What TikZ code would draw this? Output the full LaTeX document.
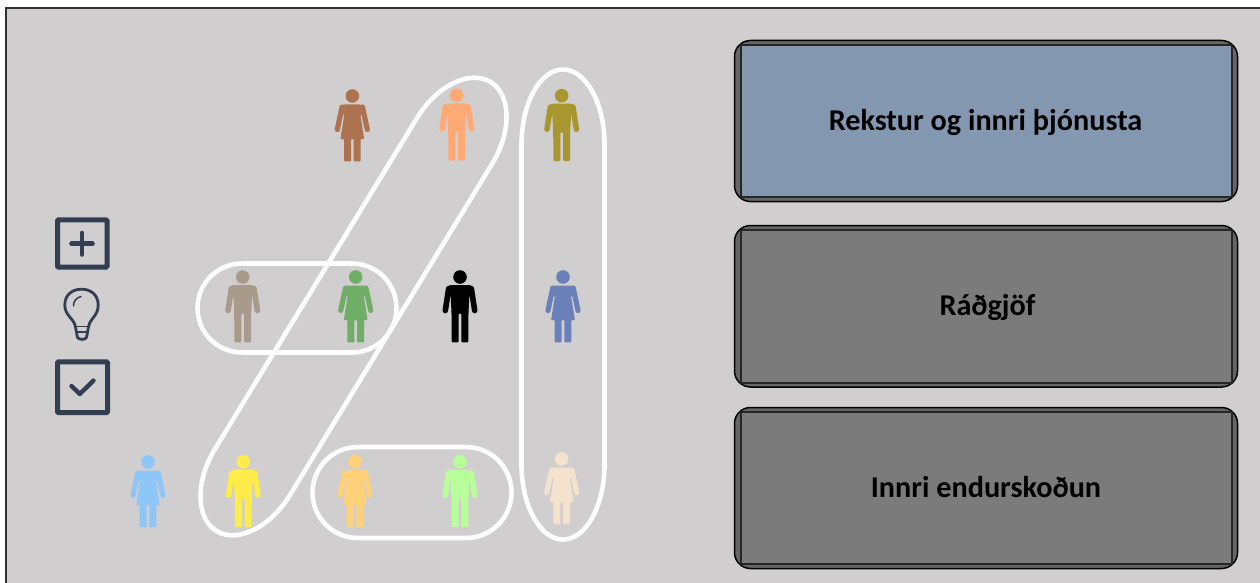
\documentclass[tikz,border=0pt]{standalone}
\usepackage{fontspec}
\setmainfont{Carlito}
\definecolor{pagebg}{HTML}{D0CECE}
\definecolor{iconc}{HTML}{333F50}
\definecolor{bluebox}{HTML}{8497B0}
\definecolor{greybox}{HTML}{7B7B7B}
\definecolor{bandc}{HTML}{666666}
\definecolor{pbrown}{HTML}{AD7351}
\definecolor{porange}{HTML}{FFAA75}
\definecolor{polive}{HTML}{A8972F}
\definecolor{ptaupe}{HTML}{A99B8B}
\definecolor{pgreen}{HTML}{70AD67}
\definecolor{pblue}{HTML}{6A80B8}
\definecolor{psky}{HTML}{8FC6F8}
\definecolor{pyellow}{HTML}{FFEB4A}
\definecolor{pgold}{HTML}{FFD27A}
\definecolor{plime}{HTML}{B8FF9C}
\definecolor{pbeige}{HTML}{F5E2CC}
\newcommand{\pillpath}[3]{%
  ({-#1},{-#3}) -- ({#1},{-#3})
  .. controls ({#1+.5523*#2},{-#3}) and ({#1+#2},{-.5523*#3}) .. ({#1+#2},0)
  .. controls ({#1+#2},{.5523*#3}) and ({#1+.5523*#2},{#3}) .. ({#1},{#3})
  -- ({-#1},{#3})
  .. controls ({-#1-.5523*#2},{#3}) and ({-#1-#2},{.5523*#3}) .. ({-#1-#2},0)
  .. controls ({-#1-#2},{-.5523*#3}) and ({-#1-.5523*#2},{-#3}) .. ({-#1},{-#3}) -- cycle}
\tikzset{
  ring/.style={draw=white,line width=4.6pt,fill=none,line join=round},
  iconbox/.style={draw=iconc,line width=5pt,fill=none,rounded corners=1pt},
  iconline/.style={draw=iconc,line cap=round,line join=round},
  boxouter/.style={draw=black,line width=1.5pt,fill=bandc,rounded corners=16pt},
  boxinner/.style={draw=black!85,line width=1.2pt},
  boxlabel/.style={font=\fontsize{30.2}{34}\selectfont\bfseries,text=black,inner sep=0pt},
  pics/man/.style={code={
    \fill[#1] (0,0) circle (6.8);
    \fill[#1,rounded corners=1pt] (-10,8) -- (10,8) -- (14,11) -- (9.3,20) -- (8.5,36)
      -- (8.3,65.3) -- (1.3,65.3) -- (1.3,36.5) -- (-1.3,36.5) -- (-1.3,65.3) -- (-8.3,65.3)
      -- (-8.5,36) -- (-9.3,20) -- (-14,11) -- cycle;
    \draw[#1,line width=5.6pt,line cap=round] (11.3,11.5) -- (14.7,33.5) (-11.3,11.5) -- (-14.7,33.5);
  }},
  pics/woman/.style={code={
    \fill[#1] (0,0) circle (6.8);
    \fill[#1,rounded corners=.8pt] (-8,8.5) -- (8,8.5) -- (12,11) -- (8.2,20) -- (11.9,43)
      -- (8.3,43) -- (8.3,65.3) -- (1.3,65.3) -- (1.3,43) -- (-1.3,43) -- (-1.3,65.3)
      -- (-8.3,65.3) -- (-8.3,43) -- (-11.9,43) -- (-8.2,20) -- (-12,11) -- cycle;
    \draw[#1,line width=5.2pt,line cap=round] (10.2,11) -- (15,33.5) (-10.2,11) -- (-15,33.5);
  }},
}
\begin{document}
\begin{tikzpicture}[x=1pt,y=-1pt]
\useasboundingbox (0,0) rectangle (1260,583);
\fill[white] (0,0) rectangle (1260,583);
\fill[pagebg] (6,8) rectangle (1260,583);
\draw[black!80,line width=2pt] (6,583) -- (6,8) -- (1260,8);

% people
\pic at (352.3,96) {woman=pbrown};
\pic at (456.7,95.3) {man=porange};
\pic at (561.7,95.7) {man=polive};
\pic at (242.7,277) {man=ptaupe};
\pic at (355.7,277) {woman=pgreen};
\pic at (460,277) {man=black};
\pic at (563,277) {woman=pblue};
\pic at (148,462) {woman=psky};
\pic at (243.3,461.7) {man=pyellow};
\pic at (355,461.7) {woman=pgold};
\pic at (460,461.7) {man=plime};
\pic at (561.7,459) {woman=pbeige};

% rings
\begin{scope}[shift={(297,308)}]
  \draw[ring] \pillpath{55}{44.5}{44.5};
\end{scope}
\begin{scope}[shift={(412,492.5)}]
  \draw[ring] \pillpath{54}{45.5}{45.5};
\end{scope}
\begin{scope}[shift={(563,304.5)},rotate=90]
  \draw[ring] \pillpath{160}{75}{41.5};
\end{scope}
\begin{scope}[shift={(353.5,306.5)},rotate=58.6]
  \draw[ring] \pillpath{194}{69}{44};
\end{scope}

% icons
\draw[iconbox] (57.5,219.8) rectangle (107,267);
\draw[iconline,line width=4.6pt] (71.5,243.7) -- (92.5,243.7) (82,233) -- (82,254.5);
\draw[iconline,line width=2.8pt] (75.5,327)
  .. controls (74,318) and (64.8,316) .. (64.8,305)
  .. controls (64.8,295) and (72,289.2) .. (81.5,289.2)
  .. controls (91,289.2) and (98.2,295) .. (98.2,305)
  .. controls (98.2,316) and (90,318) .. (88.5,327)
  -- (86.5,337.5) .. controls (85,340) and (79,340) .. (77.5,337.5) -- cycle;
\draw[iconline,line width=1.8pt] (75.5,326.5) -- (88.5,326.5) (76.5,332) -- (87.5,332);
\draw[iconline,line width=1.5pt] (73.5,306) .. controls (73.5,301) and (76,298) .. (81,296.5);
\draw[iconbox] (57.5,361.8) rectangle (107.5,412.5);
\draw[iconline,line width=4.4pt] (71.5,386) -- (79.8,394) -- (93.5,380.5);

% right boxes
\draw[boxouter] (734.5,40.5) rectangle (1237.5,201.5);
\fill[bluebox] (741,45) rectangle (1232,197);
\draw[boxinner] (741,45) rectangle (1232,197);
\node[boxlabel] (b1) at (985.5,122.5) {Rekstur og innri þjónusta};
\draw[boxouter] (734.5,225.5) rectangle (1237.5,387);
\fill[greybox] (741,230) rectangle (1232,383);
\draw[boxinner] (741,230) rectangle (1232,383);
\node[boxlabel] (b2) at (987.5,307.5) {Ráðgjöf};
\draw[boxouter] (734.5,407.5) rectangle (1237.5,568.5);
\fill[greybox] (741,412) rectangle (1232,564);
\draw[boxinner] (741,412) rectangle (1232,564);
\node[boxlabel] (b3) at (986,487) {Innri endurskoðun};
\end{tikzpicture}
\end{document}
